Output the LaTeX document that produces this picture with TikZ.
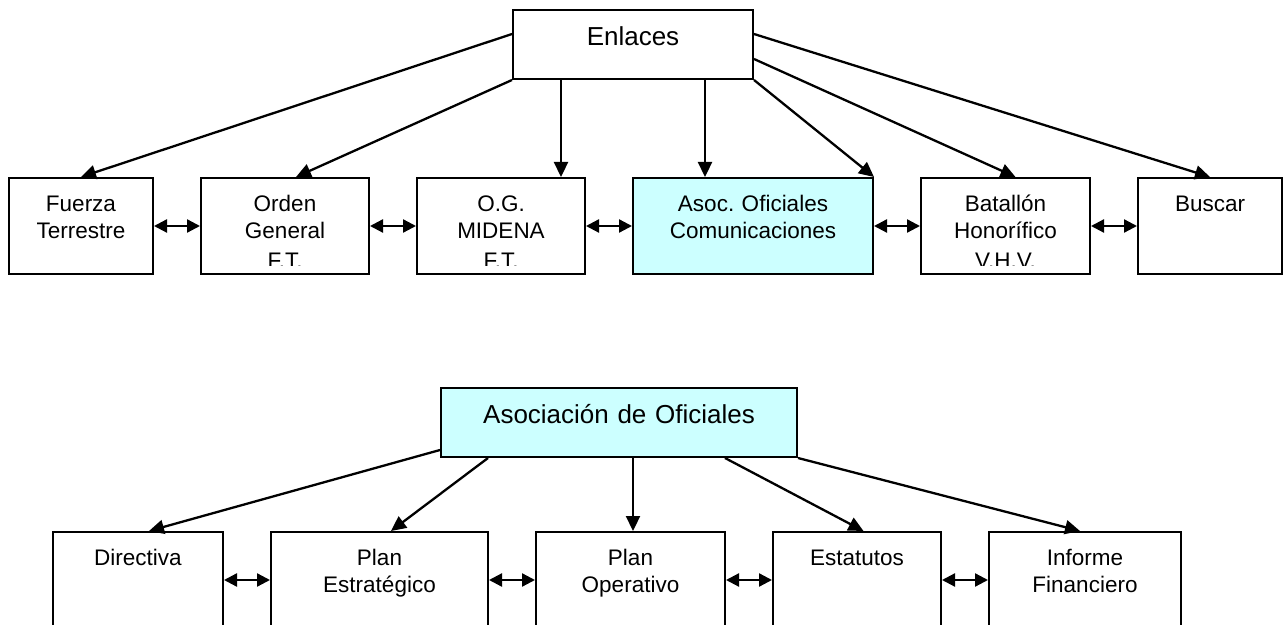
\documentclass[tikz,border=0pt]{standalone}
\usepackage{fontspec}
\setmainfont{Liberation Sans}
\usepackage{trimclip}
\usetikzlibrary{arrows.meta,positioning}
\definecolor{Ice}{HTML}{CCFFFF}
\newcommand{\cutline}[1]{\clipbox{0pt 1.3pt 0pt 0pt}{#1}}
\tikzset{
  arr/.style={-{Triangle[length=7.5pt,width=7pt]},line width=1.15pt},
  dblarr/.style={{Triangle[length=6.5pt,width=6.5pt]}-{Triangle[length=6.5pt,width=6.5pt]},line width=1.15pt},
  boxstyle/.style={draw,line width=1pt,fill=white,inner sep=0pt,align=center,
    font=\fontsize{11.25pt}{13.5pt}\selectfont\frenchspacing,text height=16.85pt,text depth=31.15pt},
  headbox/.style={draw,line width=1pt,fill=white,inner sep=0pt,align=center,
    font=\fontsize{13pt}{15.6pt}\selectfont\frenchspacing,text height=17.75pt,text depth=16.75pt},
  cyanbox/.style={fill=Ice}
}
\begin{document}
\begin{tikzpicture}[x=0.5pt,y=-0.5pt,node distance=23pt]
  \useasboundingbox (0,0) rectangle (1285,625);
  \node[headbox,text width=120pt,anchor=north west] (enlaces) at (512,9) {Enlaces};
  \node[boxstyle,text width=72pt,anchor=north west] (fuerza) at (8,177) {Fuerza\\Terrestre};
  \node[boxstyle,right=of fuerza,text width=84pt] (orden) {Orden\\General\\\cutline{F.T.}};
  \node[boxstyle,right=of orden,text width=84pt] (midena) {O.G.\\MIDENA\\\cutline{F.T.}};
  \node[boxstyle,cyanbox,right=of midena,text width=120pt] (asoc) {Asoc. Oficiales\\Comunicaciones};
  \node[boxstyle,right=of asoc,text width=84.5pt] (batallon) {Batallón\\Honorífico\\\cutline{V.H.V.}};
  \node[boxstyle,right=of batallon,text width=72pt] (buscar) {Buscar};
  \draw[arr] ([yshift=5.25pt]enlaces.west) -- (fuerza.north);
  \draw[arr] (enlaces.south west) -- ([xshift=5.5pt]orden.north);
  \draw[arr] ([xshift=-36pt]enlaces.south) -- ([xshift=-36pt]enlaces.south |- midena.north);
  \draw[arr] ([xshift=36pt]enlaces.south) -- ([xshift=36pt]enlaces.south |- asoc.north);
  \draw[arr] (enlaces.south east) -- (asoc.north east);
  \draw[arr] ([yshift=-7.25pt]enlaces.east) -- ([xshift=5pt]batallon.north);
  \draw[arr] ([yshift=5.25pt]enlaces.east) -- (buscar.north);
  \draw[dblarr] (fuerza)--(orden);\draw[dblarr] (orden)--(midena);\draw[dblarr] (midena)--(asoc);
  \draw[dblarr] (asoc)--(batallon);\draw[dblarr] (batallon)--(buscar);

  \node[headbox,cyanbox,text width=178pt,anchor=north west] (asociacion) at (440,387) {Asociación de Oficiales};
  \node[boxstyle,text width=85pt,anchor=north west] (directiva) at (52,531) {Directiva};
  \node[boxstyle,right=of directiva,text width=108.5pt] (estrategico) {Plan\\Estratégico};
  \node[boxstyle,right=of estrategico,text width=94.5pt] (operativo) {Plan\\Operativo};
  \node[boxstyle,right=of operativo,text width=84pt] (estatutos) {Estatutos};
  \node[boxstyle,right=of estatutos,text width=96pt] (informe) {Informe\\Financiero};
  \draw[arr] ([yshift=-13.75pt]asociacion.west) -- ([xshift=5.5pt]directiva.north);
  \draw[arr] ([xshift=24pt]asociacion.south west) -- ([xshift=5.75pt]estrategico.north);
  \draw[arr] ([xshift=7pt]asociacion.south) -- ([xshift=7pt]asociacion.south |- operativo.north);
  \draw[arr] ([xshift=-36.5pt]asociacion.south east) -- ([xshift=3.25pt]estatutos.north);
  \draw[arr] (asociacion.south east) -- ([xshift=-2.5pt]informe.north);
  \draw[dblarr] (directiva)--(estrategico);\draw[dblarr] (estrategico)--(operativo);
  \draw[dblarr] (operativo)--(estatutos);\draw[dblarr] (estatutos)--(informe);
\end{tikzpicture}
\end{document}
